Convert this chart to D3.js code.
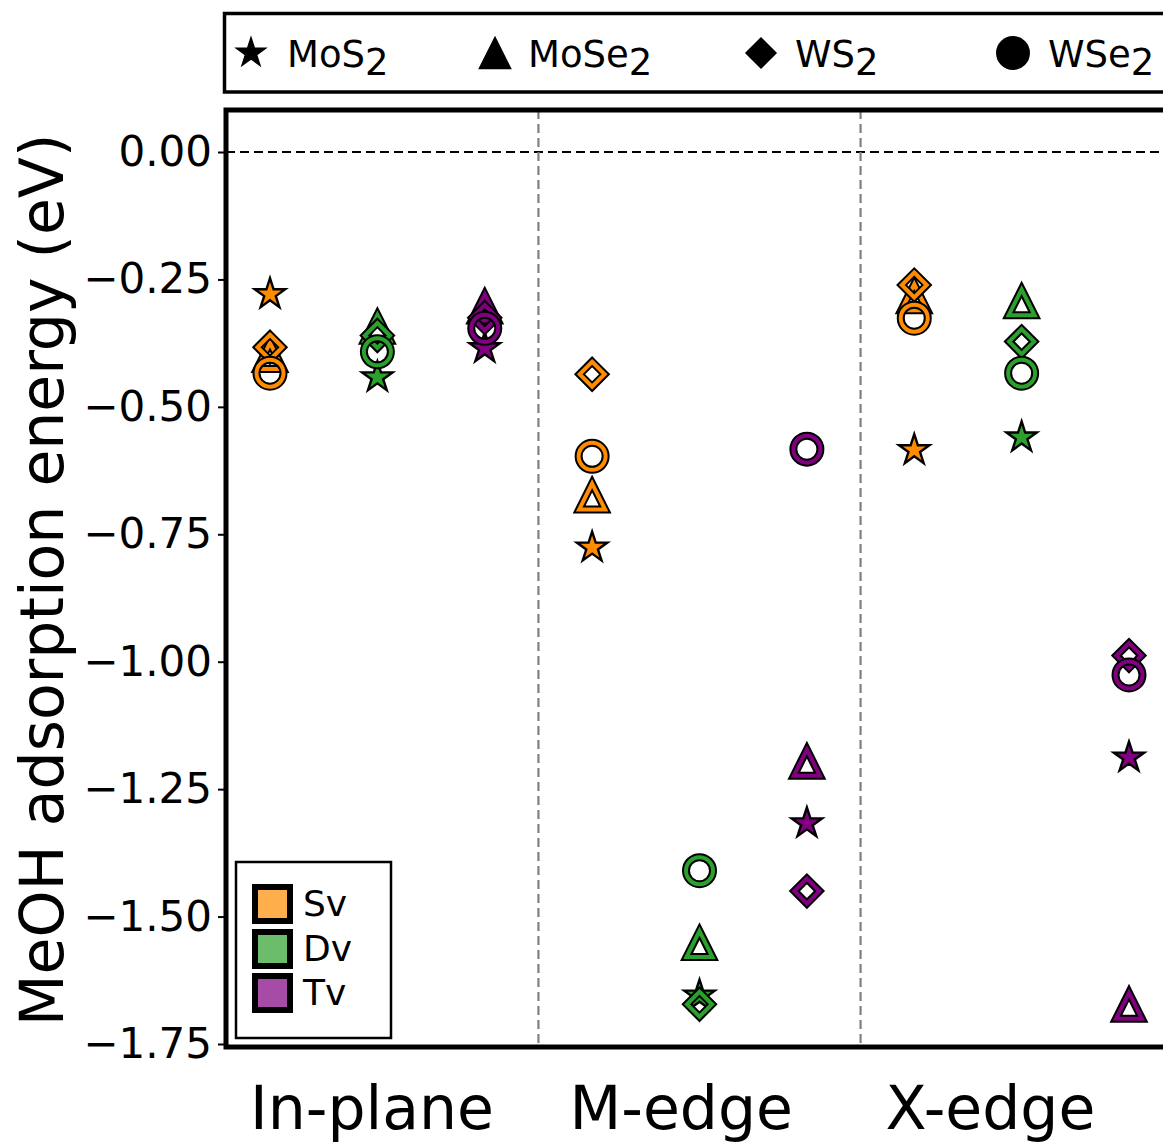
<!DOCTYPE html>
<html>
<head>
<meta charset="utf-8">
<script src="https://cdn.jsdelivr.net/npm/d3@7"></script>
<style>
html,body{margin:0;padding:0;background:#fff;}
svg{display:block;font-family:"DejaVu Sans",sans-serif;}
</style>
</head>
<body>
<svg id="chart" width="1163" height="1142"></svg>
<script>
// ---------- data ----------
const categories = ["In-plane", "M-edge", "X-edge"];
const categoryPos = [0.95, 3.83, 6.71];
const vacancies = ["Sv", "Dv", "Tv"];
const vacancyColors = ["#ff8c00", "#2ca02c", "#800080"];
const materials = ["MoS2", "MoSe2", "WS2", "WSe2"];
const materialBase = ["MoS", "MoSe", "WS", "WSe"];
const materialShapes = ["star", "triangle", "diamond", "circle"];
// order of the 9 x-slots: In-plane Sv,Dv,Tv | M-edge Sv,Dv,Tv | X-edge Sv,Dv,Tv
const mos2  = [-0.279, -0.442, -0.385, -0.776, -1.655, -1.317, -0.585, -0.560, -1.188];
const mose2 = [-0.400, -0.345, -0.305, -0.676, -1.554, -1.198, -0.285, -0.295, -1.675];
const ws2   = [-0.383, -0.360, -0.325, -0.436, -1.672, -1.450, -0.261, -0.372, -0.988];
const wse2  = [-0.434, -0.392, -0.346, -0.597, -1.410, -0.583, -0.326, -0.434, -1.026];
const seriesValues = [mos2, mose2, ws2, wse2];
const yTicks = [0, -0.25, -0.5, -0.75, -1.0, -1.25, -1.5, -1.75];
const separators = [2.5, 5.5];

(function () {
// ---------- layout ----------
const svg = d3.select("#chart");
const pLeft = 226, pTop = 110, pBottom = 1047, pRight = 1200;
const x = d3.scaleLinear().domain([0, 8]).range([270, 1129]);
const y = d3.scaleLinear().domain([0.0824, -1.7559]).range([pTop, pBottom]);

// marker path generators
function starPath(r) {
  const pts = [];
  const ri = r * 0.381966;
  for (let i = 0; i < 10; i++) {
    const rad = i % 2 === 0 ? r : ri;
    const a = -Math.PI / 2 + i * Math.PI / 5;
    pts.push([rad * Math.cos(a), rad * Math.sin(a)]);
  }
  return "M" + pts.map(p => p[0].toFixed(2) + "," + p[1].toFixed(2)).join("L") + "Z";
}
function triPath(s) { return `M0,${-s}L${s},${s}L${-s},${s}Z`; }
function diamondPath(d) { return `M0,${-d}L${d},0L0,${d}L${-d},0Z`; }
function circlePath(r) { return `M${r},0A${r},${r} 0 1,1 ${-r},0A${r},${r} 0 1,1 ${r},0Z`; }
function shapePath(shape, k) {
  k = k || 1;
  if (shape === "star") return starPath(16 * k);
  if (shape === "triangle") return triPath(13 * k);
  if (shape === "diamond") return diamondPath(12.5 * k);
  return circlePath(13.5 * k);
}

// horizontal zero line
svg.append("line")
  .attr("x1", pLeft).attr("x2", pRight)
  .attr("y1", y(0)).attr("y2", y(0))
  .attr("stroke", "#000").attr("stroke-width", 2.2)
  .attr("stroke-dasharray", "9,5");

// vertical separators
svg.selectAll("line.sep").data(separators).enter().append("line")
  .attr("class", "sep")
  .attr("x1", d => x(d)).attr("x2", d => x(d))
  .attr("y1", pTop).attr("y2", pBottom)
  .attr("stroke", "#808080").attr("stroke-width", 2.2)
  .attr("stroke-dasharray", "9,5");

// markers
const marks = svg.append("g");
seriesValues.forEach((vals, mi) => {
  const shape = materialShapes[mi];
  vals.forEach((v, i) => {
    const col = vacancyColors[i % 3];
    const g = marks.append("g").attr("transform", `translate(${x(i)},${y(v)})`);
    if (shape === "star") {
      g.append("path").attr("d", shapePath(shape))
        .attr("fill", col).attr("stroke", "#000").attr("stroke-width", 2.4)
        .attr("stroke-linejoin", "miter");
    } else {
      g.append("path").attr("d", shapePath(shape))
        .attr("fill", "none").attr("stroke", "#000").attr("stroke-width", 8)
        .attr("stroke-linejoin", "miter");
      g.append("path").attr("d", shapePath(shape))
        .attr("fill", "none").attr("stroke", col).attr("stroke-width", 4)
        .attr("stroke-linejoin", "miter");
    }
  });
});

// y axis
const yAxis = d3.axisLeft(y).tickValues(yTicks)
  .tickFormat(d => d3.format(".2f")(d).replace("-", "\u2212"))
  .tickSize(8).tickPadding(6);
const ya = svg.append("g").attr("transform", `translate(${pLeft},0)`).call(yAxis);
ya.select(".domain").remove();
ya.selectAll(".tick line").attr("stroke", "#000").attr("stroke-width", 2);
ya.selectAll(".tick text").attr("font-size", 42).attr("font-family", "DejaVu Sans").attr("fill", "#000");

// frame (left, top, bottom spines)
svg.append("path")
  .attr("d", `M${pRight},${pTop}H${pLeft}V${pBottom}H${pRight}`)
  .attr("fill", "none").attr("stroke", "#000").attr("stroke-width", 5);

// category labels
svg.selectAll("text.cat").data(categories).enter().append("text")
  .attr("class", "cat")
  .attr("x", (d, i) => x(categoryPos[i]))
  .attr("y", 1129)
  .attr("text-anchor", "middle")
  .attr("font-size", 60)
  .text(d => d);

// y label
svg.append("text")
  .attr("transform", "translate(63,580) rotate(-90)")
  .attr("text-anchor", "middle")
  .attr("font-size", 60)
  .text("MeOH adsorption energy (eV)");

// ---------- top legend (materials) ----------
svg.append("rect")
  .attr("x", 224.5).attr("y", 13.5).attr("width", 1000).attr("height", 78.5)
  .attr("fill", "#fff").attr("stroke", "#000").attr("stroke-width", 3.5);
const legMarkX = [251, 495, 761, 1013];
const legTextX = [287, 528, 795, 1048];
materials.forEach((m, i) => {
  svg.append("path")
    .attr("transform", `translate(${legMarkX[i]},53)`)
    .attr("d", shapePath(materialShapes[i], materialShapes[i] === "star" ? 0.95 : 1.2))
    .attr("fill", "#000").attr("stroke", "#000").attr("stroke-width", 1.5);
  const t = svg.append("text").attr("x", legTextX[i]).attr("y", 67).attr("font-size", 37);
  t.append("tspan").text(materialBase[i]);
  t.append("tspan").attr("dy", 8).text("2");
});

// ---------- vacancy legend ----------
svg.append("rect")
  .attr("x", 236).attr("y", 862).attr("width", 155).attr("height", 176)
  .attr("fill", "#fff").attr("stroke", "#000").attr("stroke-width", 2.5);
const vacY = [904, 949, 993];
vacancies.forEach((v, i) => {
  svg.append("rect")
    .attr("x", 255).attr("y", vacY[i] - 17).attr("width", 35).attr("height", 34)
    .attr("fill", vacancyColors[i]).attr("fill-opacity", 0.7)
    .attr("stroke", "#000").attr("stroke-width", 6);
  svg.append("text")
    .attr("x", 303).attr("y", vacY[i] + 12)
    .attr("font-size", 36)
    .text(v);
});
})();
</script>
</body>
</html>
